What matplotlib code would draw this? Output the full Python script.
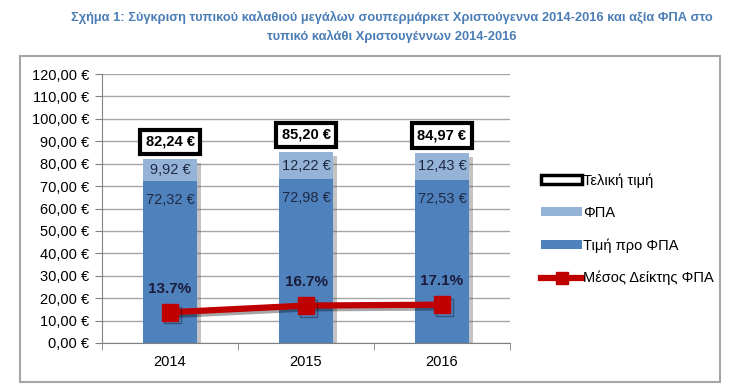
import matplotlib
matplotlib.use("Agg")
import matplotlib.pyplot as plt
import matplotlib.patheffects as pe
from matplotlib.patches import Rectangle, Patch
from matplotlib.lines import Line2D
import numpy as np

plt.rcParams['font.family'] = ['Liberation Sans', 'DejaVu Sans']

years = ['2014', '2015', '2016']
pre_vat = [72.32, 72.98, 72.53]
vat = [9.92, 12.22, 12.43]
total = [82.24, 85.20, 84.97]
vat_index = [13.7, 16.7, 17.1]
vat_index_labels = ['13.7%', '16.7%', '17.1%']
yticks = list(range(0, 121, 10))

title1 = "Σχήμα 1: Σύγκριση τυπικού καλαθιού μεγάλων σουπερμάρκετ Χριστούγεννα 2014-2016 και αξία ΦΠΑ στο"
title2 = "τυπικό καλάθι Χριστουγέννων 2014-2016"
leg_labels = ['Τελική τιμή', 'ΦΠΑ', 'Τιμή προ ΦΠΑ', 'Μέσος Δείκτης ΦΠΑ']

W, H = 741, 387
fig = plt.figure(figsize=(W/100, H/100), dpi=100)

def fx(px): return px / W
def fy(py): return 1 - py / H

# outer chart border
fig.patches.append(Rectangle((fx(20), fy(382)), fx(720) - fx(20), fy(56) - fy(382),
                             transform=fig.transFigure, fill=False, edgecolor='#A6A6A6', lw=1.5))

title_color = '#4A7DB5'
fig.text(fx(392), fy(17), title1, ha='center', va='center', fontsize=9.3, fontweight='bold', color=title_color)
fig.text(fx(392), fy(36), title2, ha='center', va='center', fontsize=9.3, fontweight='bold', color=title_color)

ax = fig.add_axes([fx(102), fy(343), fx(510) - fx(102), fy(74) - fy(343)])
x = np.arange(len(years))
dark = '#4F81BD'
light = '#95B3D7'
# shadow under the whole stacked bar
ax.bar(x, total, width=0.4, color='none', edgecolor='none', zorder=1.9,
       path_effects=[pe.SimplePatchShadow(offset=(3, -3), shadow_rgbFace='#555555', alpha=0.35)])
ax.bar(x, pre_vat, width=0.4, color=dark, zorder=2)
ax.bar(x, vat, bottom=pre_vat, width=0.4, color=light, zorder=2)

for i in range(len(years)):
    ax.text(x[i], pre_vat[i] - 8.5, f"{pre_vat[i]:.2f} €".replace('.', ','), ha='center', va='center',
            fontsize=10.5, color='#1F2A44', zorder=5)
    ax.text(x[i], pre_vat[i] + vat[i] / 2, f"{vat[i]:.2f} €".replace('.', ','), ha='center', va='center',
            fontsize=10.5, color='#1F2A44', zorder=5)
    ax.text(x[i], total[i] + 7.6, f"{total[i]:.2f} €".replace('.', ','), ha='center', va='center',
            fontsize=10.5, fontweight='bold', color='black', zorder=5,
            bbox=dict(boxstyle='square,pad=0.35', fc='white', ec='black', lw=3))
    ax.text(x[i], vat_index[i] + 10.5, vat_index_labels[i], ha='center', va='center',
            fontsize=11, fontweight='bold', color='#1B1B3A', zorder=5)

ax.plot(x, vat_index, color='#C00000', lw=4.5, marker='s', markersize=12, zorder=4,
        path_effects=[pe.SimpleLineShadow(offset=(2, -2), alpha=0.35), pe.Normal()])

ax.set_xlim(-0.5, 2.5)
ax.set_ylim(0, 120)
ax.set_yticks(yticks)
ax.set_yticklabels([f"{v:.2f} €".replace('.', ',') for v in yticks], fontsize=10.5)
ax.set_xticks(x)
ax.set_xticklabels(years, fontsize=10.5)
ax.tick_params(axis='x', length=0, pad=9)
ax.set_xticks([-0.5, 0.5, 1.5, 2.5], minor=True)
ax.tick_params(axis='x', which='minor', length=5, color='#808080', direction='out')
ax.tick_params(axis='y', length=5, color='#808080', pad=4)
ax.grid(axis='y', color='#A6A6A6', lw=1, zorder=0)
ax.set_axisbelow(True)
for s in ['top', 'right']:
    ax.spines[s].set_visible(False)
ax.spines['left'].set_color('#808080')
ax.spines['bottom'].set_color('#808080')

handles = [Patch(facecolor='white', edgecolor='black', lw=2.5),
           Patch(facecolor=light, edgecolor='none'),
           Patch(facecolor=dark, edgecolor='none'),
           Line2D([0], [0], color='#C00000', lw=4.5, marker='s', markersize=8)]
fig.legend(handles, leg_labels, loc='upper left', bbox_to_anchor=(fx(528), fy(160)), frameon=False,
           fontsize=10.5, handlelength=2.8, handleheight=0.55, handletextpad=0.1, labelspacing=1.25)

fig.savefig('out.png', dpi=100)
